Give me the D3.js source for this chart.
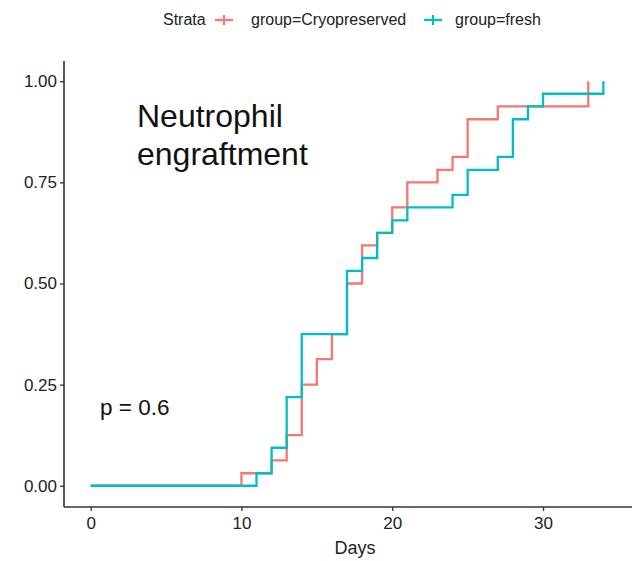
<!DOCTYPE html>
<html>
<head>
<meta charset="utf-8">
<script src="https://cdn.jsdelivr.net/npm/d3@7"></script>
<style>
  html, body { margin: 0; padding: 0; background: #fff; }
  svg { display: block; font-family: "Liberation Sans", Arial, sans-serif; }
</style>
</head>
<body>
<svg id="chart" width="636" height="561"></svg>
<script>
// ---- data ----
const seriesNames = ["group=Cryopreserved", "group=fresh"];
const seriesColors = ["#F8766D", "#00BFC4"];
const cryoDays = [0, 10, 12, 13, 14, 15, 16, 17, 18, 19, 20, 21, 23, 24, 25, 27, 33];
const cryoValues = [0, 0.031, 0.063, 0.125, 0.25, 0.313, 0.375, 0.5, 0.594, 0.625, 0.688, 0.75, 0.781, 0.813, 0.906, 0.938, 1.0];
const freshDays = [0, 11, 12, 13, 14, 17, 18, 19, 20, 21, 24, 25, 27, 28, 29, 30, 34];
const freshValues = [0, 0.031, 0.094, 0.219, 0.375, 0.531, 0.563, 0.625, 0.656, 0.688, 0.719, 0.781, 0.813, 0.906, 0.938, 0.969, 1.0];
const xTicks = [0, 10, 20, 30];
const yTicks = [0, 0.25, 0.5, 0.75, 1.0];
const titleLines = ["Neutrophil", "engraftment"];
const pText = "p = 0.6";
const xTitle = "Days";
const legendTitle = "Strata";

// ---- layout ----
const svg = d3.select("#chart");
const panel = { left: 65, right: 629, top: 61, bottom: 506 };
const x = d3.scaleLinear().domain([-1.7, 35.7]).range([panel.left, panel.right]);
const y = d3.scaleLinear().domain([-0.05, 1.05]).range([panel.bottom, panel.top]);
const axisColor = "#333";

// curves
const series = [
  { name: seriesNames[0], color: seriesColors[0], pts: cryoDays.map((d, i) => [d, cryoValues[i]]) },
  { name: seriesNames[1], color: seriesColors[1], pts: freshDays.map((d, i) => [d, freshValues[i]]) }
];
const line = d3.line().x(d => x(d[0])).y(d => y(d[1])).curve(d3.curveStepAfter);
svg.append("g").selectAll("path").data(series).join("path")
  .attr("d", s => line(s.pts))
  .attr("fill", "none")
  .attr("stroke", s => s.color)
  .attr("stroke-width", 2.3);

// y axis
const yAxis = d3.axisLeft(y).tickValues(yTicks).tickFormat(d3.format(".2f")).tickSize(4).tickSizeOuter(0).tickPadding(3);
const gy = svg.append("g").attr("transform", `translate(${panel.left - 1},0)`).call(yAxis);
gy.select(".domain").attr("stroke", axisColor).attr("stroke-width", 1.6).attr("d", `M0,${panel.top}V${panel.bottom + 1}`);
gy.selectAll(".tick line").attr("stroke", axisColor).attr("stroke-width", 1.3);
gy.selectAll(".tick text").attr("fill", "#222").attr("font-size", 17).attr("font-family", "Liberation Sans, Arial, sans-serif");

// x axis
const xAxis = d3.axisBottom(x).tickValues(xTicks).tickFormat(d3.format("d")).tickSize(4).tickSizeOuter(0).tickPadding(6);
const gx = svg.append("g").attr("transform", `translate(0,${panel.bottom + 1})`).call(xAxis);
gx.select(".domain").attr("stroke", axisColor).attr("stroke-width", 1.6).attr("d", `M${panel.left - 1},0H${panel.right + 3}`);
gx.selectAll(".tick line").attr("stroke", axisColor).attr("stroke-width", 1.3);
gx.selectAll(".tick text").attr("fill", "#222").attr("font-size", 17).attr("font-family", "Liberation Sans, Arial, sans-serif");

// x title
svg.append("text").attr("x", (panel.left + panel.right) / 2 + 8).attr("y", 554)
  .attr("text-anchor", "middle").attr("font-size", 18).attr("fill", "#222").text(xTitle);

// annotation title
svg.append("text").attr("x", 137).attr("y", 127).attr("font-size", 32).attr("fill", "#111")
  .selectAll("tspan").data(titleLines).join("tspan")
  .attr("x", 137).attr("dy", (d, i) => i === 0 ? 0 : 38).text(d => d);

// p value
svg.append("text").attr("x", 100).attr("y", 415).attr("font-size", 22.5).attr("fill", "#111").text(pText);

// legend
const lg = svg.append("g").attr("font-size", 16).attr("fill", "#222");
lg.append("text").attr("x", 163).attr("y", 25).text(legendTitle);
const legendItems = [
  { name: seriesNames[0], color: seriesColors[0], keyX: 215, textX: 251 },
  { name: seriesNames[1], color: seriesColors[1], keyX: 424, textX: 455 }
];
legendItems.forEach(it => {
  lg.append("line").attr("x1", it.keyX).attr("x2", it.keyX + 18).attr("y1", 20).attr("y2", 20)
    .attr("stroke", it.color).attr("stroke-width", 2.3);
  lg.append("line").attr("x1", it.keyX + 9).attr("x2", it.keyX + 9).attr("y1", 15).attr("y2", 25)
    .attr("stroke", it.color).attr("stroke-width", 2);
  lg.append("text").attr("x", it.textX).attr("y", 25).text(it.name);
});
</script>
</body>
</html>
